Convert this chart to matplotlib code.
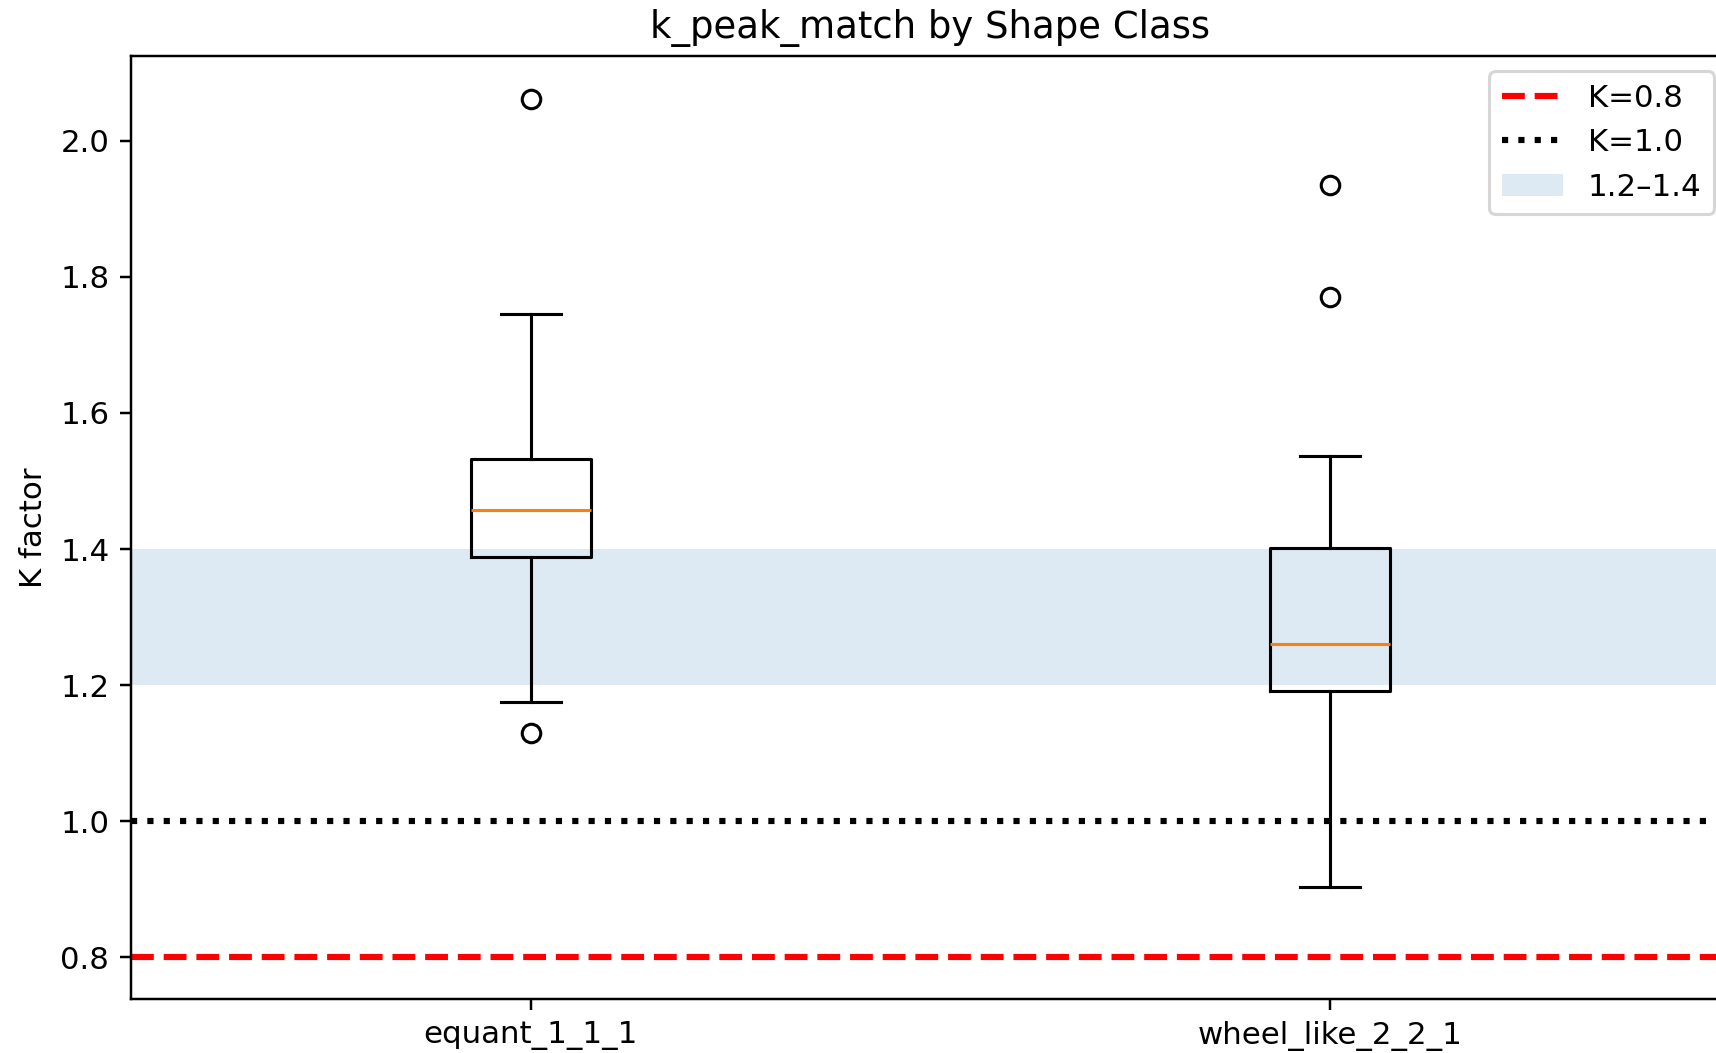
import matplotlib
matplotlib.use("Agg")
import matplotlib.pyplot as plt

# per-class K factor summary (box stats read per shape class)
labels = ["equant_1_1_1", "wheel_like_2_2_1"]
q1 = [1.389, 1.192]
med = [1.457, 1.260]
q3 = [1.533, 1.401]
whislo = [1.175, 0.903]
whishi = [1.746, 1.536]
fliers = [[2.062, 1.130], [1.935, 1.770]]

k_low = 0.8
k_unit = 1.0
band = (1.2, 1.4)

DPI = 222
plt.rcParams.update({
    "font.family": "DejaVu Sans",
    "font.size": 10,
})

fig = plt.figure(figsize=(1716 / DPI, 1053 / DPI), dpi=DPI)
ax = fig.add_axes([0.0763, 0.051, 0.9316, 0.8958])

stats = [
    dict(label=lab, q1=a, med=m, q3=b, whislo=lo, whishi=hi, fliers=fl)
    for lab, a, m, b, lo, hi, fl in zip(labels, q1, med, q3, whislo, whishi, fliers)
]
ax.bxp(stats, positions=[1, 2], widths=0.15)

ax.axhline(k_low, color="red", linestyle="--", linewidth=2, label="K=0.8")
ax.axhline(k_unit, color="black", linestyle=":", linewidth=2, label="K=1.0")
ax.axhspan(*band, alpha=0.15, label="1.2\u20131.4")

ax.set_xlim(0.5, 2.5)
ax.set_ylim(0.7383, 2.1245)
ax.set_ylabel("K factor")
ax.set_title("k_peak_match by Shape Class")
ax.legend(loc="upper right")

fig.savefig("out.png", dpi=DPI, facecolor="white")
